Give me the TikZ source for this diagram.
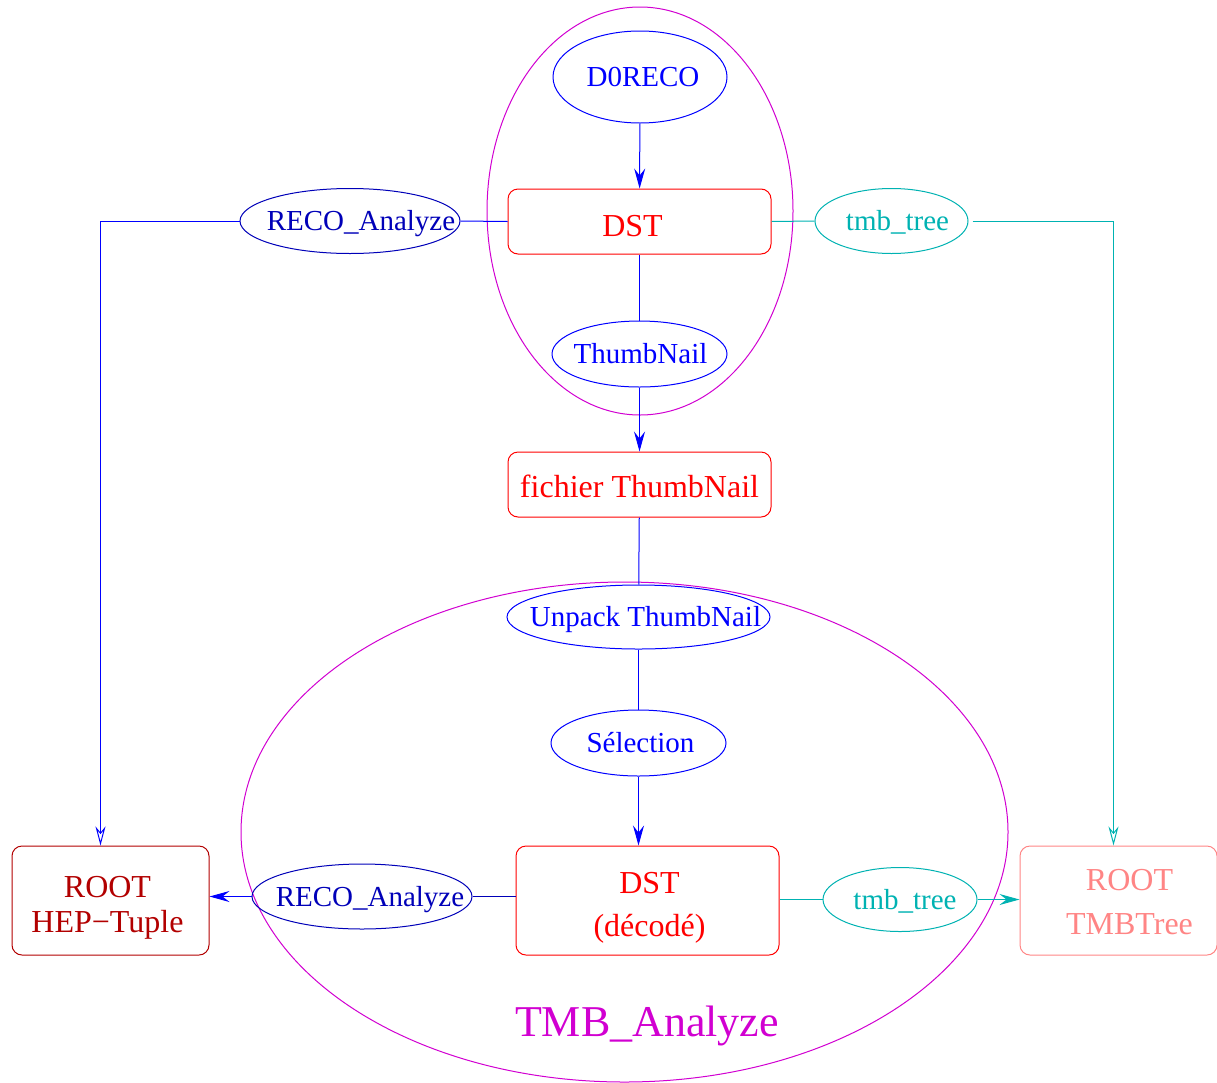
\documentclass[tikz,border=0pt]{standalone}
\usepackage{fontspec}
\setmainfont{Liberation Serif}
\usetikzlibrary{shapes.geometric,arrows.meta}
\definecolor{myblue}{rgb}{0,0,1}
\definecolor{recoblue}{rgb}{0,0,0.72}
\definecolor{mytea}{rgb}{0,0.70,0.70}
\definecolor{mymag}{rgb}{0.82,0,0.82}
\definecolor{myred}{rgb}{1,0,0}
\definecolor{darkred}{rgb}{0.70,0,0}
\definecolor{pinkred}{rgb}{1,0.52,0.52}
\begin{document}
\begin{tikzpicture}[x=1pt,y=-1pt,
  ell/.style={draw, ellipse, inner sep=0pt, line width=1pt},
  etxt/.style={font=\fontsize{29}{34}\selectfont, inner sep=0pt, text height=26pt, text depth=7pt},
  box/.style={draw, rectangle, rounded corners=10pt, line width=1pt, minimum width=263pt, inner sep=0pt},
  btxt/.style={font=\fontsize{32}{35}\selectfont, align=center, inner sep=0pt},
  big/.style={draw=mymag, ellipse, inner sep=0pt, line width=1pt},
  conn/.style={line width=1pt},
  farr/.style={-{Stealth[length=20pt,width=11pt,inset=7pt]}},
  oarr/.style={-{Stealth[open,length=19pt,width=10pt,inset=6pt]}},
]
\useasboundingbox (0,0) rectangle (1217,1082);

% big ellipses
\node[big, minimum width=306pt, minimum height=408pt] (topE) at (640,211) {};
\node[big, minimum width=767pt, minimum height=500pt] (botE) at (624.5,832) {};

% top part
\node[ell, draw=myblue, minimum width=174pt, minimum height=92pt,
  label={[etxt, text=myblue, xshift=3pt]center:D0RECO}] (d0) at (640,77) {};
\node[box, draw=myred, minimum height=65pt,
  label={[btxt, text=myred, xshift=-7pt, yshift=-4.5pt]center:DST}] (dst) at (639.5,221.5) {};
\node[ell, draw=recoblue, minimum width=220pt, minimum height=65pt,
  label={[etxt, text=recoblue, xshift=11pt]center:RECO\_Analyze}] (recoT) at (350,221) {};
\node[ell, draw=mytea, minimum width=153pt, minimum height=65pt,
  label={[etxt, text=mytea, xshift=6pt]center:tmb\_tree}] (tmbT) at (891.5,221) {};
\node[ell, draw=myblue, minimum width=175pt, minimum height=66pt,
  label={[etxt, text=myblue, xshift=1pt]center:ThumbNail}] (thumb) at (639.5,354) {};
\node[box, draw=myred, minimum height=65pt,
  label={[btxt, text=myred, yshift=-2pt]center:fichier ThumbNail}] (fich) at (639.5,484.5) {};

% bottom part
\node[ell, draw=myblue, minimum width=263pt, minimum height=64pt,
  label={[etxt, text=myblue, xshift=7pt]center:Unpack ThumbNail}] (unpack) at (638.5,617) {};
\node[ell, draw=myblue, minimum width=175pt, minimum height=66pt,
  label={[etxt, text=myblue, xshift=2pt]center:Sélection}] (sel) at (638.5,743) {};
\node[box, draw=myred, minimum height=109pt,
  label={[btxt, text=myred, xshift=2pt, yshift=-7pt]center:DST\\[8pt](décodé)}] (dst2) at (647.5,900.5) {};
\node[ell, draw=recoblue, minimum width=220pt, minimum height=65pt,
  label={[etxt, text=recoblue, xshift=8pt]center:RECO\_Analyze}] (recoB) at (362,896.5) {};
\node[ell, draw=mytea, minimum width=154pt, minimum height=64pt,
  label={[etxt, text=mytea, xshift=5pt]center:tmb\_tree}] (tmbB) at (900,899.5) {};
\node[box, draw=darkred, minimum width=197pt, minimum height=109pt,
  label={[btxt, text=darkred, xshift=-3pt, yshift=-7pt]center:ROOT\\HEP−Tuple}] (hep) at (110.5,900.5) {};
\node[box, draw=pinkred, minimum width=197pt, minimum height=109pt,
  label={[btxt, text=pinkred, xshift=11pt, yshift=-1.5pt]center:ROOT\\[9pt]TMBTree}] (tmbroot) at (1118.5,900.5) {};
\node[text=mymag, font=\fontsize{44}{50}\selectfont] (tmbA) at (647,1026) {TMB\_Analyze};

% connectors
\draw[conn, myblue, farr] (d0) -- (dst);
\draw[conn, myblue] (dst.west) -- (recoT.east);
\draw[conn, myblue, oarr] (recoT.west) -| ([xshift=-10pt]hep.north);
\draw[conn, mytea] (dst.east) -- (tmbT.west);
\draw[conn, mytea, oarr] ([xshift=4pt]tmbT.east) -| ([xshift=-5pt]tmbroot.north);
\draw[conn, myblue] (dst) -- (thumb);
\draw[conn, myblue, farr] (thumb) -- (fich);
\draw[conn, myblue] (fich) -- (unpack);
\draw[conn, myblue] (unpack) -- (sel);
\draw[conn, myblue, farr] (sel.south) -- (sel.south |- dst2.north);
\draw[conn, recoblue] (dst2.west |- recoB.east) -- (recoB.east);
\draw[conn, myblue, farr] (recoB.west) -- (hep.east |- recoB.west);
\draw[conn, mytea] (dst2.east |- tmbB.west) -- (tmbB.west);
\draw[conn, mytea, farr] (tmbB.east) -- (tmbroot.west |- tmbB.east);
\end{tikzpicture}
\end{document}
